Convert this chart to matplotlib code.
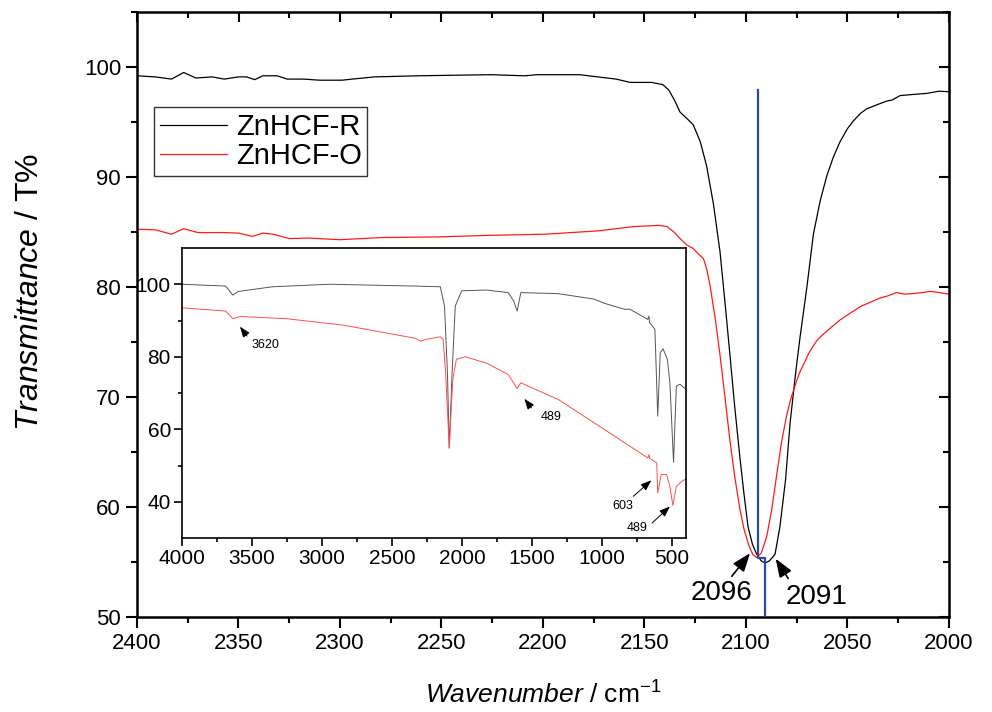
# FTIR spectra of ZnHCF-R / ZnHCF-O, zoom on the C≡N band with full-range inset
import matplotlib
matplotlib.use("Agg")
import matplotlib.pyplot as plt

plt.rcParams['font.family'] = ['Liberation Sans', 'DejaVu Sans']
plt.rcParams['mathtext.fontset'] = 'custom'
plt.rcParams['mathtext.rm'] = 'Liberation Sans'
plt.rcParams['mathtext.it'] = 'Liberation Sans:italic'

# main panel, 2400-2000 cm-1
wn_r = [2400, 2391, 2383, 2377, 2371, 2363, 2357, 2350, 2346, 2342, 2338, 2331, 2326, 2318,
        2310, 2299, 2294, 2283, 2262, 2226, 2209, 2203, 2182, 2173, 2164, 2157, 2146.5, 2141,
        2138, 2135, 2132.5, 2129, 2126, 2122.5, 2119.4, 2116, 2112.8, 2110.3, 2107.9, 2105.5, 2103,
        2101, 2099, 2096.8, 2094.7, 2092.5, 2090.6, 2088.5, 2085.7, 2083.3, 2080.5, 2078.3,
        2075.8, 2073.4, 2070, 2066.8, 2063.5, 2060.2, 2057, 2053.7, 2050, 2047.1, 2043.5,
        2040.5, 2035, 2030.7, 2028, 2024.1, 2018, 2011, 2005, 2000]
t_r = [99.2, 99.1, 98.9, 99.5, 99.0, 99.1, 98.9, 99.1, 99.1, 98.85, 99.2, 99.2, 98.9, 98.9,
       98.8, 98.8, 98.9, 99.1, 99.2, 99.3, 99.2, 99.3, 99.3, 99.1, 98.9, 98.6, 98.6, 98.4,
       97.9, 96.9, 95.9, 95.3, 94.75, 93.2, 91.0, 87.5, 83.2, 78.5, 73.8, 69.0, 64.5,
       61.2, 58.2, 56.6, 55.7, 55.1, 54.9, 55.1, 55.7, 58.2, 62.5, 67.6,
       71.8, 75.4, 80.0, 84.8, 87.8, 90.1, 91.8, 93.2, 94.4, 95.1, 95.8,
       96.2, 96.6, 96.9, 97.0, 97.4, 97.5, 97.6, 97.8, 97.75]

wn_o = [2400, 2391, 2383, 2377, 2370, 2357, 2350, 2343, 2338, 2333, 2325, 2316, 2300, 2279,
        2252, 2226, 2199, 2173, 2164, 2155, 2143, 2139, 2135.5, 2132.5, 2129, 2126, 2123.5, 2121,
        2119.3, 2117.7, 2115.2, 2112.8, 2110.3, 2107.9, 2105.5, 2103, 2101, 2098.8, 2096.7,
        2094.7, 2092.5, 2089.8, 2087.3, 2084.9, 2082.5, 2080, 2078, 2075, 2073.4, 2071, 2069.3,
        2067, 2065.2, 2062, 2059.5, 2053.7, 2048.8, 2043.8, 2039, 2034, 2030, 2025.8, 2022,
        2017.6, 2013, 2009.4, 2005, 2000]
t_o = [85.25, 85.2, 84.8, 85.3, 84.95, 84.95, 84.9, 84.6, 84.9, 84.8, 84.4, 84.45, 84.3, 84.5,
       84.55, 84.7, 84.8, 85.1, 85.3, 85.5, 85.6, 85.5, 85.0, 84.4, 83.8, 83.5, 83.0, 82.6,
       81.6, 80.1, 77.2, 73.8, 69.9, 66.0, 62.7, 59.8, 58.0, 56.6, 55.7,
       55.4, 55.8, 57.3, 59.8, 62.9, 65.9, 68.3, 69.8, 71.5, 72.3, 73.2, 73.9,
       74.6, 75.1, 75.7, 76.1, 77.0, 77.6, 78.2, 78.6, 79.0, 79.2, 79.5, 79.35,
       79.4, 79.5, 79.6, 79.5, 79.35]

# blue marker line between the two minima
wn_mark = [2094.3, 2094.3, 2090.6, 2090.6]
t_mark = [97.9, 55.4, 55.4, 50.2]

# inset, 4000-400 cm-1
wn_ir = [4000, 3688, 3637, 3599, 3356, 2947, 2334, 2155, 2125, 2104, 2091, 2071, 2048, 2002,
         1823, 1670, 1631, 1606, 1580, 1312, 1057, 980, 840, 800, 673, 665, 660, 622, 602,
         584, 564, 533, 515, 489, 469, 443, 400]
t_ir = [100, 99.5, 97.0, 98.0, 99.3, 100, 99.5, 99.3, 94, 75.6, 54.8, 75.6, 94, 98.2,
        98.4, 97.7, 95.4, 92.6, 97.7, 97.4, 95.9, 94.7, 93.1, 93.1, 90.3, 91.2, 89.4, 87.6, 63.6,
        81.1, 82.2, 79.3, 72.8, 50.9, 71.9, 72.4, 71.0]

wn_io = [4000, 3688, 3637, 3586, 3254, 2845, 2334, 2296, 2257, 2155, 2135, 2117, 2091, 2066,
         2040, 1976, 1823, 1670, 1631, 1606, 1580, 1312, 1057, 800, 673, 665, 660, 609, 602,
         577, 538, 515, 494, 469, 431, 400]
t_io = [93.5, 92.6, 90.5, 91.1, 90.5, 88.7, 85.1, 84.3, 84.8, 85.5, 84.8, 75.6, 54.8, 73.7,
        79.3, 80.0, 78.2, 75.1, 72.8, 71.2, 72.8, 68.2, 61.8, 55.3, 52.1, 53.0, 52.0, 50.7, 42.4,
        47.5, 47.5, 44.2, 39.0, 44.2, 45.6, 46.3]

fig = plt.figure(figsize=(9.92, 7.12), dpi=100)
ax = fig.add_axes([137/992, 1-617/712, 812/992, 605/712])

ax.plot(wn_r, t_r, color='black', lw=0.9, label='ZnHCF-R')
ax.plot(wn_o, t_o, color='#ff1a1a', lw=0.9, label='ZnHCF-O')
ax.plot(wn_mark, t_mark, color='#2b4a9e', lw=1.6)

ax.set_xlim(2400, 2000)
ax.set_ylim(50, 105)
ax.set_xticks(range(2400, 1999, -50))
ax.set_xticks(range(2375, 2000, -50), minor=True)
ax.set_yticks(range(50, 101, 10))
ax.set_yticks(range(55, 106, 10), minor=True)
ax.tick_params(which='both', direction='out', width=1.5, labelsize=16)
ax.tick_params(which='major', length=8)
ax.tick_params(which='minor', length=4)
for s in ax.spines.values():
    s.set_linewidth(1.8)

# inward ticks on the top and right spines
sx = ax.secondary_xaxis('top')
sx.set_xticks(range(2400, 1999, -50))
sx.set_xticks(range(2375, 2000, -50), minor=True)
sx.tick_params(which='both', direction='in', width=1.5, labeltop=False)
sx.tick_params(which='major', length=7)
sx.tick_params(which='minor', length=4)
sy = ax.secondary_yaxis('right')
sy.set_yticks(range(50, 101, 10))
sy.set_yticks(range(55, 106, 10), minor=True)
sy.tick_params(which='both', direction='in', width=1.5, labelright=False)
sy.tick_params(which='major', length=7)
sy.tick_params(which='minor', length=4)

ax.set_xlabel(r'$\it{Wavenumber}$ / cm$^{-1}$', fontsize=19, labelpad=20)
ax.set_ylabel(r'$\it{Transmittance}$ / T%', fontsize=23)
ax.yaxis.set_label_coords(-0.113, 0.537)

ax.legend(loc='upper left', bbox_to_anchor=(154/992, 1-107/712), bbox_transform=fig.transFigure,
          borderaxespad=0, fontsize=21, handlelength=2.3, handletextpad=0.3, labelspacing=0.05,
          borderpad=0.2, fancybox=False, edgecolor='#333333', framealpha=1)

arr = dict(arrowstyle='-|>,head_length=0.8,head_width=0.3', color='black', lw=1.2,
           mutation_scale=14, shrinkA=0, shrinkB=0)
ax.annotate('', xy=(2098, 55.8), xytext=(2107, 53.7), arrowprops=arr)
ax.annotate('', xy=(2085.4, 55.3), xytext=(2079.2, 53.5), arrowprops=arr)
ax.text(2112, 52.2, '2096', fontsize=20, ha='center', va='center')
ax.text(2065.2, 51.8, '2091', fontsize=20, ha='center', va='center')

# inset
ins = fig.add_axes([182/992, 1-538/712, 504/992, 290/712])
ins.plot(wn_ir, t_ir, color='#555555', lw=0.7)
ins.plot(wn_io, t_io, color='#ff4d4d', lw=0.7)
ins.set_xlim(4000, 400)
ins.set_ylim(30, 110)
ins.set_xticks(range(4000, 499, -500))
ins.set_xticks(range(3750, 400, -500), minor=True)
ins.set_yticks([40, 60, 80, 100])
ins.set_yticks([50, 70, 90], minor=True)
ins.tick_params(which='both', direction='out', width=1.2, labelsize=15, pad=2)
ins.tick_params(which='major', length=6)
ins.tick_params(which='minor', length=3)
for s in ins.spines.values():
    s.set_linewidth(1.2)

sarr = dict(arrowstyle='-|>,head_length=0.8,head_width=0.3', color='black', lw=0.7,
            mutation_scale=8, shrinkA=0, shrinkB=0)
ins.annotate('', xy=(3586, 88.3), xytext=(3535, 85.7), arrowprops=sarr)
ins.text(3400, 83.2, '3620', fontsize=9, ha='center', va='center')
ins.annotate('', xy=(1555, 68.4), xytext=(1504, 65.9), arrowprops=sarr)
ins.text(1363, 63.4, '489', fontsize=9, ha='center', va='center')
ins.annotate('', xy=(648, 45.9), xytext=(776, 41.5), arrowprops=sarr)
ins.text(852, 38.7, '603', fontsize=9, ha='center', va='center')
ins.annotate('', xy=(515, 38.7), xytext=(643, 34.1), arrowprops=sarr)
ins.text(750, 32.7, '489', fontsize=9, ha='center', va='center')

fig.savefig('out.png', dpi=100)
